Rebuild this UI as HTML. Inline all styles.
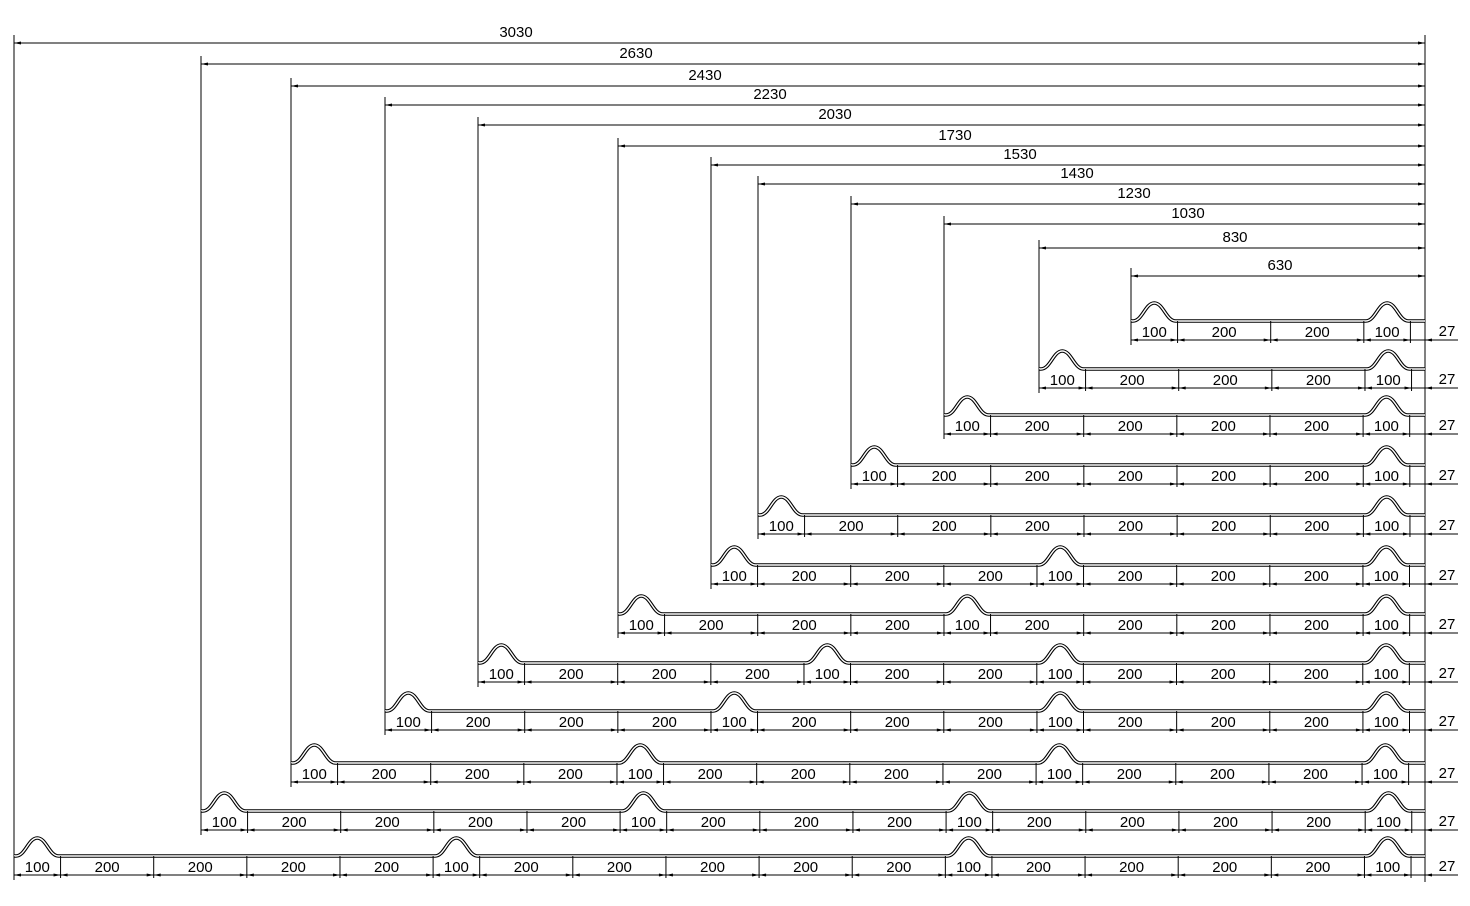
<!DOCTYPE html>
<html><head><meta charset="utf-8"><style>
html,body{margin:0;padding:0;background:#fff;}
svg{display:block}
text{font-family:"Liberation Sans",sans-serif;font-size:15px;fill:#000}
</style></head><body>
<svg id="s" xmlns="http://www.w3.org/2000/svg" width="1470" height="906" viewBox="0 0 1470 906"></svg>
<script>
const S=1411/3030, R=1425, svg=document.getElementById('s');
let out='';
function line(x1,y1,x2,y2,w){out+=`<line x1="${x1}" y1="${y1}" x2="${x2}" y2="${y2}" stroke="#000" stroke-width="${w||1}"/>`;}
function txt(x,y,t,a){out+=`<text x="${x}" y="${y}" text-anchor="${a||'middle'}">${t}</text>`;}
function arr(x,y,dir){
  const l=7*dir;out+=`<polygon points="${x},${y} ${x-l},${y-1.5} ${x-l},${y+1.5}" fill="#000"/>`;}
const tops=[[3030,14,43,516],[2630,201,64,636],[2430,291,86,705],[2230,385,105,770],[2030,478,125,835],[1730,618,146,955],[1530,711,165,1020],[1430,758,184,1077],[1230,851,204,1134],[1030,944,224,1188],[830,1039,248,1235],[630,1131,276,1280]];
const rows={630:[321,[100,200,200,100]],830:[369,[100,200,200,200,100]],1030:[415,[100,200,200,200,200,100]],
1230:[465,[100,200,200,200,200,200,100]],1430:[515,[100,200,200,200,200,200,200,100]],
1530:[565,[100,200,200,200,100,200,200,200,100]],1730:[614,[100,200,200,200,100,200,200,200,200,100]],
2030:[663,[100,200,200,200,100,200,200,100,200,200,200,100]],2230:[711,[100,200,200,200,100,200,200,200,100,200,200,200,100]],
2430:[763,[100,200,200,200,100,200,200,200,200,100,200,200,200,100]],2630:[811,[100,200,200,200,200,100,200,200,200,100,200,200,200,200,100]],
3030:[856,[100,200,200,200,200,100,200,200,200,200,200,100,200,200,200,200,100]]};
line(R,35,R,882);
for(const [L,xl,yd,tx] of tops){
  const [y0,segs]=rows[L];
  line(xl,yd,R,yd); arr(xl,yd,-1); arr(R,yd,1);
  txt(tx,yd-6,L);
  line(xl,yd-8,xl,y0+24);
  let d=`M${xl},${y0}`; let x=xl;
  for(const sg of segs){const w=sg*S;
    if(sg==100){const a=x,c=x+w/2,h=18;
      d+=` L${a+2},${y0} C${c-12},${y0} ${c-9},${y0-h} ${c},${y0-h} C${c+9},${y0-h} ${c+12},${y0} ${a+w-2},${y0}`;}
    x+=w;}
  d+=` L${R},${y0}`;
  out+=`<path d="${d}" fill="none" stroke="#000" stroke-width="3.6"/><path d="${d}" fill="none" stroke="#fff" stroke-width="1.4"/>`;
  const yc=y0+19; x=xl;
  const xs=[xl];
  for(const sg of segs){x+=sg*S;xs.push(x);}
  line(xl,yc,R+33,yc);
  for(let i=0;i<xs.length;i++){line(xs[i],y0,xs[i],yc+3);}
  line(R,yc-3,R,yc+3);
  for(let i=0;i<segs.length;i++){
    arr(xs[i],yc,-1);arr(xs[i+1],yc,1);
    txt((xs[i]+xs[i+1])/2,y0+16,segs[i]);
  }
  arr(R,yc,-1);
  txt(1447,y0+15,27);
}
svg.innerHTML=out;
</script>
</body></html>
